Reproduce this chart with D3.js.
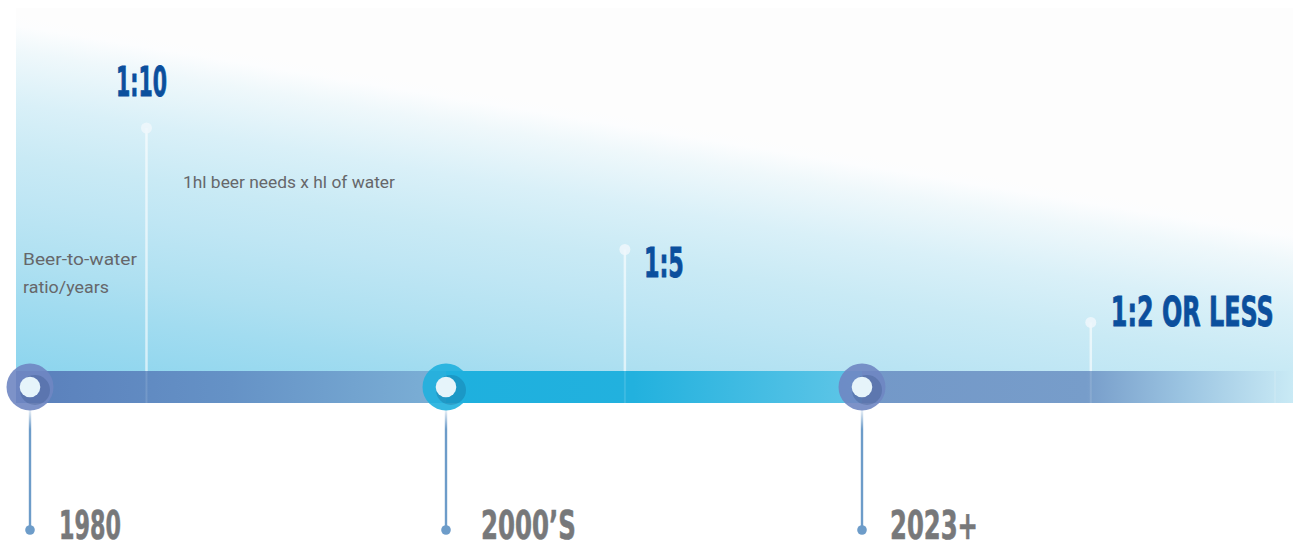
<!DOCTYPE html>
<html>
<head>
<meta charset="utf-8">
<script src="https://cdn.jsdelivr.net/npm/d3@7"></script>
<style>
  html, body { margin: 0; padding: 0; background: #fff; }
  svg { display: block; }
</style>
</head>
<body>
<div id="chart"></div>
<script>
// Data
const years = ["1980", "2000\u2019S", "2023+"];
const ratioLabels = ["1:10", "1:5", "1:2 OR LESS"];
const ratioValues = [10, 5, 2];
const captionLines = ["Beer-to-water", "ratio/years"];
const note = "1hl beer needs x hl of water";

// Dimensions
const W = 1293, H = 542;
const panelLeft = 16, barTop = 371, barH = 32;
const barMid = barTop + barH / 2;
const condensed = "'DejaVu Sans Condensed', 'Liberation Sans Narrow', 'Roboto', sans-serif";

const svg = d3.select("#chart").append("svg")
  .attr("width", W)
  .attr("height", H);

const defs = svg.append("defs");

// Squeeze a text horizontally to a target width, anchored at (x, y)
function fitWidth(sel, xf, yf, lenf, anchorf) {
  sel.each(function(d, i) {
    const t = d3.select(this);
    const w = this.getComputedTextLength();
    const s = lenf(d, i) / w;
    const a = anchorf ? anchorf(d, i) : "start";
    const x0 = a === "middle" ? xf(d, i) - lenf(d, i) / 2 : xf(d, i);
    t.attr("text-anchor", "start")
      .attr("transform", `translate(${x0},${yf(d, i)}) scale(${s},1)`);
  });
}

// Scales: years sit on an index scale, ratio markers use the same index scale plus an offset
const x = d3.scaleLinear().domain([0, 3]).range([30, 1278]);
const y = d3.scaleLinear().domain([0, 10]).range([barTop, 128]);
const markerOffset = [0.28, 0.43, 0.55];

// Background panel gradient (tilted)
const bg = defs.append("linearGradient")
  .attr("id", "bg")
  .attr("gradientUnits", "userSpaceOnUse")
  .attr("x1", 16).attr("y1", 15)
  .attr("x2", -41).attr("y2", 360);
[[0, "#fdfdfd"], [0.03, "#fcfdfe"], [0.1, "#eff8fb"], [0.25, "#d9f0f8"],
 [0.4, "#c9eaf5"], [0.52, "#bfe6f4"], [0.7, "#aee0f1"], [0.8, "#a2dcf0"],
 [1, "#8dd5ee"]].forEach(([o, c]) =>
  bg.append("stop").attr("offset", o).attr("stop-color", c));

svg.append("rect")
  .attr("x", panelLeft).attr("y", 8)
  .attr("width", W - panelLeft).attr("height", barTop + barH - 8)
  .attr("fill", "url(#bg)");

// Bar segment gradients
const segStops = [
  [[0, "#5a7fbb"], [0.5, "#6592c6"], [1, "#7cb0d6"]],
  [[0, "#1eb0de"], [0.45, "#22b1de"], [1, "#60c6e7"]],
  [[0, "#7398c8"], [0.52, "#779dca"], [0.75, "#9cc5e2"], [1, "#c9eaf5"]]
];
segStops.forEach((stops, i) => {
  const g = defs.append("linearGradient").attr("id", "seg" + i);
  stops.forEach(([o, c]) => g.append("stop").attr("offset", o).attr("stop-color", c));
});

const segX0 = i => i === 0 ? panelLeft : x(i);
const segX1 = i => i === 2 ? W : x(i + 1);

// Up-stems from ratio markers (drawn under bar)
const markers = ratioValues.map((v, i) => ({ v, label: ratioLabels[i], mx: x(i + markerOffset[i]), my: y(v) }));

svg.selectAll(".stem")
  .data(markers)
  .enter().append("line")
  .attr("class", "stem")
  .attr("x1", d => d.mx).attr("x2", d => d.mx)
  .attr("y1", d => d.my).attr("y2", barTop)
  .attr("stroke", "#ffffff")
  .attr("stroke-opacity", 0.6)
  .attr("stroke-width", 2.5);

svg.selectAll(".stemDot")
  .data(markers)
  .enter().append("circle")
  .attr("cx", d => d.mx).attr("cy", d => d.my)
  .attr("r", 5.5)
  .attr("fill", "#eef7fb")
  .attr("fill-opacity", 0.85);

// Bar
svg.selectAll(".seg")
  .data(years)
  .enter().append("rect")
  .attr("class", "seg")
  .attr("x", (d, i) => segX0(i))
  .attr("y", barTop)
  .attr("width", (d, i) => segX1(i) - segX0(i))
  .attr("height", barH)
  .attr("fill", (d, i) => `url(#seg${i})`);

// faint stems crossing the bar
svg.selectAll(".stemIn")
  .data(markers.map(d => d.mx).concat([1275]))
  .enter().append("line")
  .attr("x1", d => d).attr("x2", d => d)
  .attr("y1", barTop).attr("y2", barTop + barH)
  .attr("stroke", "#ffffff")
  .attr("stroke-opacity", 0.12)
  .attr("stroke-width", 2);

// Ratio labels
const labelLayout = [
  { dx: -5, dy: -32, anchor: "middle", len: 51 },
  { dx: 19, dy: 27, anchor: "start", len: 40 },
  { dx: 20, dy: 4, anchor: "start", len: 163 }
];
svg.selectAll(".ratio")
  .data(markers)
  .enter().append("text")
  .attr("class", "ratio")
  .style("font-family", condensed)
  .style("font-weight", "700")
  .style("font-size", "41px")
  .style("fill", "#0b4f9d")
  .style("stroke", "#0b4f9d")
  .style("stroke-width", 0.8)
  .text(d => d.label)
  .call(fitWidth,
    (d, i) => d.mx + labelLayout[i].dx,
    (d, i) => d.my + labelLayout[i].dy,
    (d, i) => labelLayout[i].len,
    (d, i) => labelLayout[i].anchor);

// Down-stems to year labels
const down = defs.append("linearGradient")
  .attr("id", "down").attr("x1", 0).attr("y1", 0).attr("x2", 0).attr("y2", 1);
[[0, "#ffffff"], [0.18, "#6d9cc9"], [1, "#6d9cc9"]].forEach(([o, c]) =>
  down.append("stop").attr("offset", o).attr("stop-color", c));

svg.selectAll(".down")
  .data(years)
  .enter().append("rect")
  .attr("x", (d, i) => x(i) - 1.2)
  .attr("y", barMid + 20)
  .attr("width", 2.4)
  .attr("height", 530 - barMid - 20)
  .attr("fill", "url(#down)");

svg.selectAll(".downDot")
  .data(years)
  .enter().append("circle")
  .attr("cx", (d, i) => x(i))
  .attr("cy", 530)
  .attr("r", 4.8)
  .attr("fill", "#6d9cc9");

// Year nodes on the bar
const ringColors = ["#6f86c2", "#1fb0de", "#6f86c2"];
const node = svg.selectAll(".node")
  .data(years)
  .enter().append("g")
  .attr("transform", (d, i) => `translate(${x(i)},${barMid})`);

node.append("circle")
  .attr("r", 23.5)
  .attr("fill", (d, i) => ringColors[i])
  .attr("fill-opacity", 0.9);

node.append("circle")
  .attr("cx", 5).attr("cy", 3)
  .attr("r", 15)
  .attr("fill", "#0a2d5a")
  .attr("fill-opacity", 0.18);

node.append("circle")
  .attr("r", 10.3)
  .attr("fill", "#e6f4fa");

// Year labels
const yearLen = [62, 95, 88];
const yearDx = [29, 35, 28];
svg.selectAll(".year")
  .data(years)
  .enter().append("text")
  .style("font-family", condensed)
  .style("font-weight", "700")
  .style("font-size", "39px")
  .style("fill", "#77787a")
  .style("stroke", "#77787a")
  .style("stroke-width", 0.6)
  .text(d => d)
  .call(fitWidth,
    (d, i) => x(i) + yearDx[i],
    () => 539,
    (d, i) => yearLen[i]);

// Small texts
svg.append("text")
  .style("font-family", "Roboto, sans-serif")
  .style("font-size", "17px")
  .style("fill", "#66676a")
  .datum(note)
  .text(d => d)
  .call(fitWidth, () => 183, () => 188, () => 212);

const capLen = [114, 86];
svg.selectAll(".caption")
  .data(captionLines)
  .enter().append("text")
  .style("font-family", "Roboto, sans-serif")
  .style("font-size", "17px")
  .style("fill", "#66676a")
  .text(d => d)
  .call(fitWidth, () => 23, (d, i) => 265 + i * 28, (d, i) => capLen[i]);
</script>
</body>
</html>
